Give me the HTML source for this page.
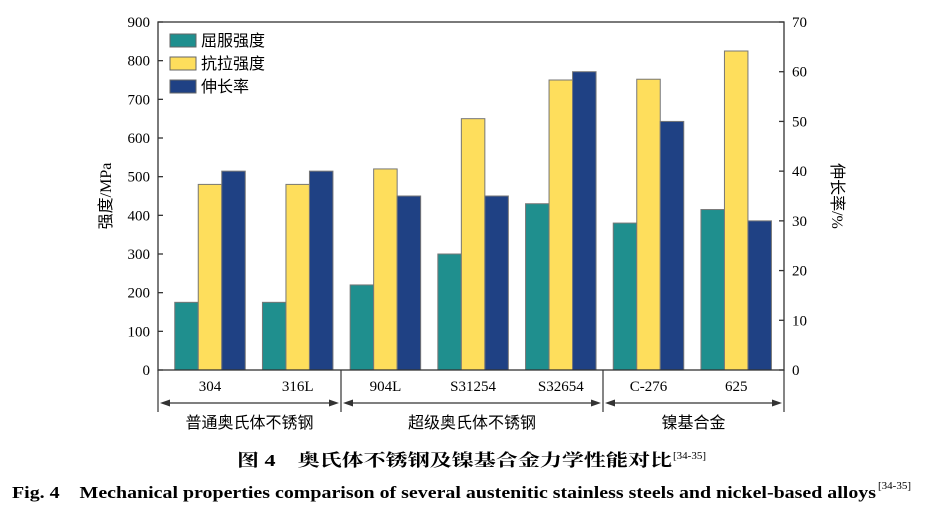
<!DOCTYPE html>
<html><head><meta charset="utf-8"><style>
body{margin:0;background:#fff;}
svg{display:block;font-family:"Liberation Serif","Noto Serif CJK SC","Noto Sans CJK SC",serif;}
</style></head><body>
<svg id="c" width="931" height="515" xmlns="http://www.w3.org/2000/svg"></svg>
<script>
const categories=["304","316L","904L","S31254","S32654","C-276","625"];
const yieldStrength=[175,175,220,300,430,380,415];
const tensileStrength=[480,480,520,650,750,752,825];
const elongation=[40,40,35,35,60,50,30];
const leftTicks=[0,100,200,300,400,500,600,700,800,900];
const rightTicks=[0,10,20,30,40,50,60,70];
const groups=[{name:"普通奥氏体不锈钢",from:0,to:1},{name:"超级奥氏体不锈钢",from:2,to:4},{name:"镍基合金",from:5,to:6}];

const NS="http://www.w3.org/2000/svg";
const svg=document.getElementById('c');
const L=158,R=784,T=22,B=370;
const yL=v=>B-(v/900)*(B-T);
const yR=v=>B-(v/70)*(B-T);
const step=87.7;
const xc=i=>210+step*i;
const bw=23.5;
function el(tag,attrs,txt){const e=document.createElementNS(NS,tag);for(const k in attrs)e.setAttribute(k,attrs[k]);if(txt!=null)e.textContent=txt;svg.appendChild(e);return e;}

const series=[[yieldStrength,yL,"#1f8f8e","yield"],[tensileStrength,yL,"#fede5c","tensile"],[elongation,yR,"#1f4184","elongation"]];
categories.forEach((c,i)=>{
  series.forEach((s,j)=>{
    const x=xc(i)-1.5*bw+j*bw, y=s[1](s[0][i]);
    const r=el('rect',{x:x,y:y,width:bw,height:B-y,fill:s[2],stroke:"#777","stroke-width":1});
    
    
  });
  const t=el('text',{x:xc(i),y:391,'text-anchor':'middle','font-size':15},c);
  
  
});
const f=el('rect',{x:L,y:T,width:R-L,height:B-T,fill:"none",stroke:"#333","stroke-width":1.3});

leftTicks.forEach(v=>{
  el('line',{x1:L,x2:L+5,y1:yL(v),y2:yL(v),stroke:"#333","stroke-width":1.3});
  const t=el('text',{x:L-8,y:yL(v)+5,'text-anchor':'end','font-size':15},v);
  
});
rightTicks.forEach(v=>{
  el('line',{x1:R-5,x2:R,y1:yR(v),y2:yR(v),stroke:"#333","stroke-width":1.3});
  const t=el('text',{x:R+8,y:yR(v)+5,'text-anchor':'start','font-size':15},v);
  
});
el('line',{x1:L,x2:L,y1:B,y2:412,stroke:"#333","stroke-width":1.2});
el('line',{x1:R,x2:R,y1:B,y2:412,stroke:"#333","stroke-width":1.2});
const edges=[L,341,603,R];
[341,603].forEach(x=>el('line',{x1:x,x2:x,y1:B,y2:412,stroke:"#333","stroke-width":1.2}));
groups.forEach((g,k)=>{
  const a=edges[k]+2,b=edges[k+1]-2,y=403;
  el('line',{x1:a+6,x2:b-6,y1:y,y2:y,stroke:"#333","stroke-width":1.2});
  el('polygon',{points:`${a},${y} ${a+10},${y-3.5} ${a+10},${y+3.5}`,fill:"#333"});
  el('polygon',{points:`${b},${y} ${b-10},${y-3.5} ${b-10},${y+3.5}`,fill:"#333"});
  const t=el('text',{x:(edges[k]+edges[k+1])/2,y:428,'text-anchor':'middle','font-size':16,'font-family':'"Noto Sans CJK SC",sans-serif'},g.name);
  
});
const yt=el('text',{x:0,y:0,'font-size':16,'text-anchor':'middle',transform:'translate(111,196) rotate(-90)','font-family':'"Liberation Serif","Noto Sans CJK SC",sans-serif'},'强度/MPa');

const rt=el('text',{x:0,y:0,'font-size':16,'text-anchor':'middle',transform:'translate(832,196) rotate(90)','font-family':'"Liberation Serif","Noto Sans CJK SC",sans-serif'},'伸长率/%');

const leg=[["屈服强度","#1f8f8e"],["抗拉强度","#fede5c"],["伸长率","#1f4184"]];
leg.forEach((l,i)=>{
  const y=34+i*23;
  const r=el('rect',{x:170,y:y,width:26,height:13,fill:l[1],stroke:"#666","stroke-width":1});
  
  const t=el('text',{x:201,y:y+12,'font-size':16,'font-family':'"Noto Sans CJK SC",sans-serif'},l[0]);
  
});
const c1=el('text',{x:237,y:466,'font-size':17,'font-weight':'bold',textLength:435,lengthAdjust:'spacingAndGlyphs','font-family':'"Liberation Serif","Noto Serif CJK SC",serif'},'图 4　奥氏体不锈钢及镍基合金力学性能对比');

el('text',{x:673,y:459,'font-size':11},'[34-35]');
const c2=el('text',{x:12,y:498,'font-size':17,'font-weight':'bold',textLength:864,lengthAdjust:'spacingAndGlyphs'},'Fig. 4　Mechanical properties comparison of several austenitic stainless steels and nickel-based alloys');

el('text',{x:878,y:489,'font-size':11},'[34-35]');
</script>
</body></html>
